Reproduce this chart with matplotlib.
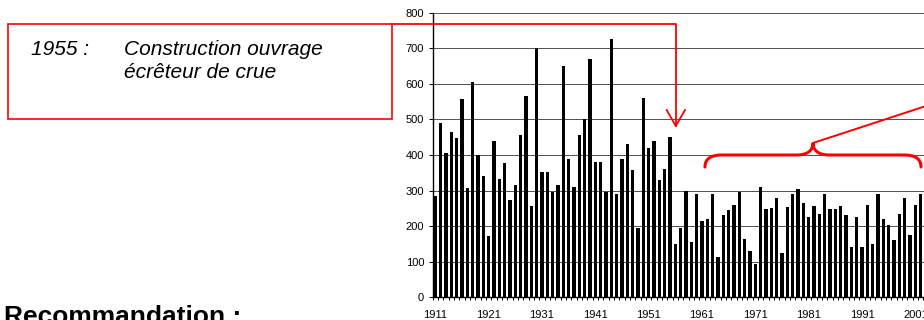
import matplotlib
matplotlib.use("Agg")
import matplotlib.pyplot as plt
from matplotlib.path import Path
from matplotlib.patches import PathPatch, Rectangle
from matplotlib.lines import Line2D

# Annual peak flows, 1911-2002
years = list(range(1911, 2003))
peak_flow = [
    285, 490, 407, 465, 448, 557, 307, 606, 400, 340,
    172, 440, 333, 377, 274, 316, 457, 567, 257, 702,
    353, 353, 297, 316, 650, 390, 309, 455, 500, 669,
    379, 379, 295, 725, 290, 390, 431, 358, 195, 559,
    421, 439, 330, 361, 451, 150, 195, 300, 155, 290,
    215, 219, 290, 114, 230, 245, 259, 295, 165, 130,
    95, 309, 249, 251, 279, 125, 254, 290, 304, 266,
    226, 257, 234, 290, 249, 249, 257, 230, 140, 225,
    140, 259, 150, 290, 219, 204, 160, 234, 279, 175,
    259, 290,
]
label_years = list(range(1911, 2002, 10))
y_ticks = list(range(0, 801, 100))

note_year = "1955 :"
note_lines = ["Construction ouvrage", "écrêteur de crue"]
heading = "Recommandation :"

plt.rcParams["font.family"] = ["Liberation Sans", "DejaVu Sans"]

W, H = 924, 320
fig = plt.figure(figsize=(W / 100, H / 100), dpi=100)


def fx(px):
    return px / W


def fy(py):
    return (H - py) / H


# Axes geometry (pixels): one year = 5.333 px
px_per_year = 5.333
x0, x1 = 1910.5, 2010.5
ax_left, ax_bottom, ax_top = 432.7, 297.3, 12.7
ax = fig.add_axes([fx(ax_left), fy(ax_bottom),
                   (x1 - x0) * px_per_year / W, (ax_bottom - ax_top) / H])

ax.bar(years, peak_flow, width=0.62, color="black", zorder=3)
ax.set_xlim(x0, x1)
ax.set_ylim(0, 800)

ax.set_yticks(y_ticks)
ax.yaxis.grid(True, color="#505050", linewidth=0.7, zorder=0)
ax.set_axisbelow(True)

ax.set_xticks(label_years)
ax.set_xticks([y - 0.5 for y in years] + [years[-1] + 0.5 + i for i in range(8)],
              minor=True)
ax.tick_params(axis="x", which="major", length=0, pad=9.3, labelsize=8)
ax.tick_params(axis="x", which="minor", length=2.5, width=0.7, direction="out")
ax.tick_params(axis="y", which="major", length=2.9, width=0.7, pad=3.2,
               labelsize=8)

for side in ("top", "right"):
    ax.spines[side].set_visible(False)
for side in ("left", "bottom"):
    ax.spines[side].set_color("black")
    ax.spines[side].set_linewidth(1.0)

red = "#ff0000"

# Note box with its connector to the 1955 arrow
fig.patches.append(Rectangle((fx(8.3), fy(119.3)), fx(392.3 - 8.3),
                             (119.3 - 24) / H, transform=fig.transFigure,
                             fill=False, edgecolor=red, linewidth=1.2))
fig.lines.append(Line2D([fx(392.3), fx(675.7), fx(675.7)],
                        [fy(24), fy(24), fy(126)],
                        transform=fig.transFigure, color=red, linewidth=1.3))
fig.lines.append(Line2D([fx(666.7), fx(675.7), fx(685)],
                        [fy(110), fy(126), fy(110)],
                        transform=fig.transFigure, color=red, linewidth=1.3))

# Curly brace over the post-1960 period
verts_px = [
    (705, 167), (705, 158), (712, 155), (722, 155),
    (797, 155),
    (808, 155), (813, 150), (813, 143),
    (813, 150), (818, 155), (829, 155),
    (904, 155),
    (914, 155), (921, 158), (921, 167),
]
codes = [Path.MOVETO, Path.CURVE4, Path.CURVE4, Path.CURVE4,
         Path.LINETO,
         Path.CURVE4, Path.CURVE4, Path.CURVE4,
         Path.CURVE4, Path.CURVE4, Path.CURVE4,
         Path.LINETO,
         Path.CURVE4, Path.CURVE4, Path.CURVE4]
brace = Path([(fx(x), fy(y)) for x, y in verts_px], codes)
fig.patches.append(PathPatch(brace, transform=fig.transFigure, fill=False,
                             edgecolor=red, linewidth=2.2, capstyle="round"))
fig.lines.append(Line2D([fx(813), fx(940)], [fy(143), fy(101.4)],
                        transform=fig.transFigure, color=red, linewidth=1.4))

# Texts
fig.text(fx(31), fy(55), note_year, fontsize=15, style="italic",
         ha="left", va="baseline")
fig.text(fx(124), fy(55), note_lines[0], fontsize=15, style="italic",
         ha="left", va="baseline")
fig.text(fx(124), fy(78), note_lines[1], fontsize=15, style="italic",
         ha="left", va="baseline")
fig.text(fx(4), fy(324), heading, fontsize=19, fontweight="bold",
         ha="left", va="baseline")

fig.savefig("out.png", dpi=100)
